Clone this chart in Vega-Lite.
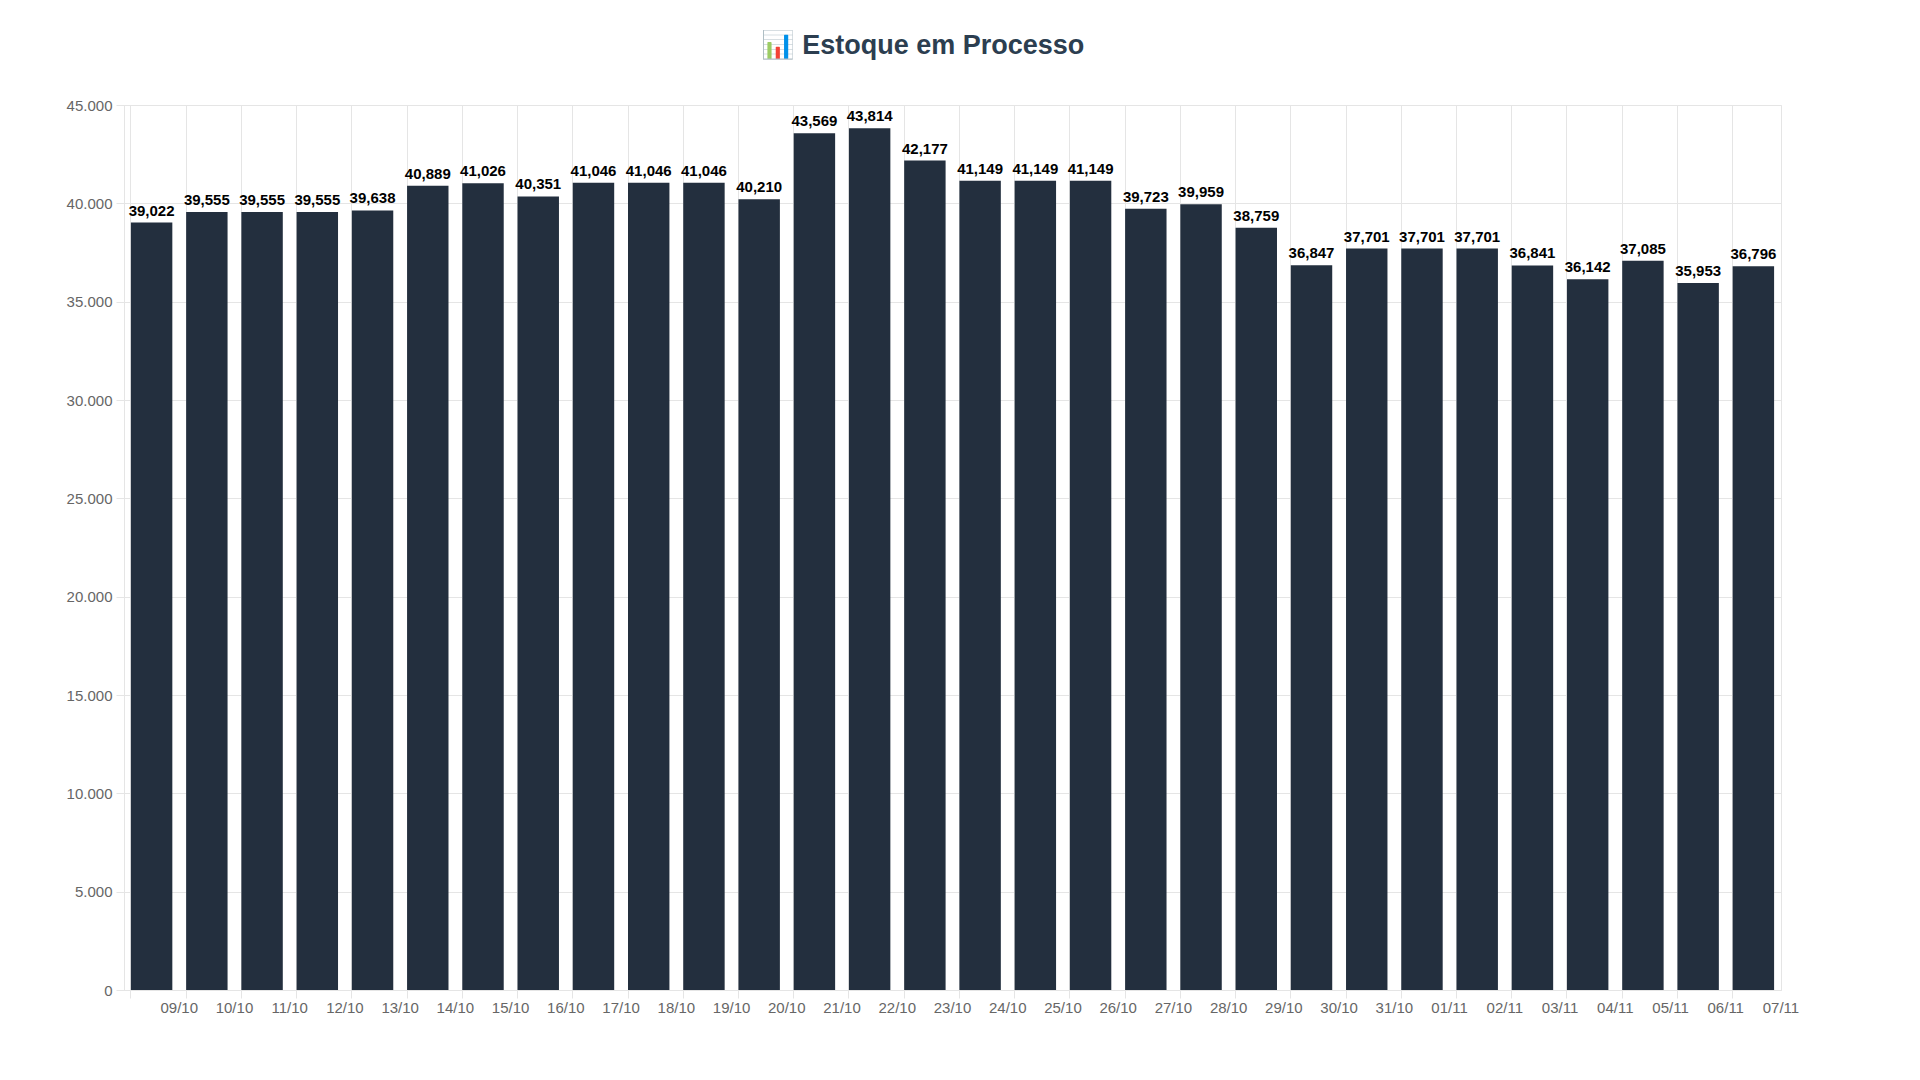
{
"$schema":"https://vega.github.io/schema/vega-lite/v6.json",
"autosize":{"type":"none"},
"padding":{"left":124,"top":105,"right":139,"bottom":90},
"width":1657,"height":885,
"background":"white",
"config":{"font":"Liberation Sans","view":{"stroke":"#e5e5e5"}},
"title":{"text":"📊 Estoque em Processo","fontSize":27,"fontWeight":"bold","color":"#2c3e50","offset":38,"dx":-30},
"data":{"values":[
{"d":"09/10","v":39022},{"d":"10/10","v":39555},{"d":"11/10","v":39555},{"d":"12/10","v":39555},{"d":"13/10","v":39638},{"d":"14/10","v":40889},{"d":"15/10","v":41026},{"d":"16/10","v":40351},{"d":"17/10","v":41046},{"d":"18/10","v":41046},{"d":"19/10","v":41046},{"d":"20/10","v":40210},{"d":"21/10","v":43569},{"d":"22/10","v":43814},{"d":"23/10","v":42177},{"d":"24/10","v":41149},{"d":"25/10","v":41149},{"d":"26/10","v":41149},{"d":"27/10","v":39723},{"d":"28/10","v":39959},{"d":"29/10","v":38759},{"d":"30/10","v":36847},{"d":"31/10","v":37701},{"d":"01/11","v":37701},{"d":"02/11","v":37701},{"d":"03/11","v":36841},{"d":"04/11","v":36142},{"d":"05/11","v":37085},{"d":"06/11","v":35953},{"d":"07/11","v":36796}
]},
"encoding":{
"x":{"field":"d","type":"nominal","sort":null,"title":null,"scale":{"paddingInner":0.25,"paddingOuter":0.125},
"axis":{"labelAngle":0,"bandPosition":0,"labelOffset":27.6,"grid":true,"gridColor":"#e5e5e5","domainColor":"#e5e5e5","tickColor":"#e5e5e5","labelColor":"#666","labelFontSize":15,"tickSize":8}},
"y":{"field":"v","type":"quantitative","title":null,"scale":{"domain":[0,45000]},
"axis":{"values":[0,5000,10000,15000,20000,25000,30000,35000,40000,45000],"labelExpr":"replace(format(datum.value,','),',','.')","gridColor":"#e5e5e5","domainColor":"#e5e5e5","tickColor":"#e5e5e5","labelColor":"#666","labelFontSize":15,"tickSize":8,"labelPadding":4}}
},
"layer":[
{"mark":{"type":"bar","color":"#232f3e"}},
{"mark":{"type":"text","baseline":"bottom","dy":-4,"fontWeight":"bold","fontSize":15,"color":"#000"},
 "encoding":{"text":{"field":"v","type":"quantitative","format":",","formatType":"number"}},
 "transform":[]}
]
}
